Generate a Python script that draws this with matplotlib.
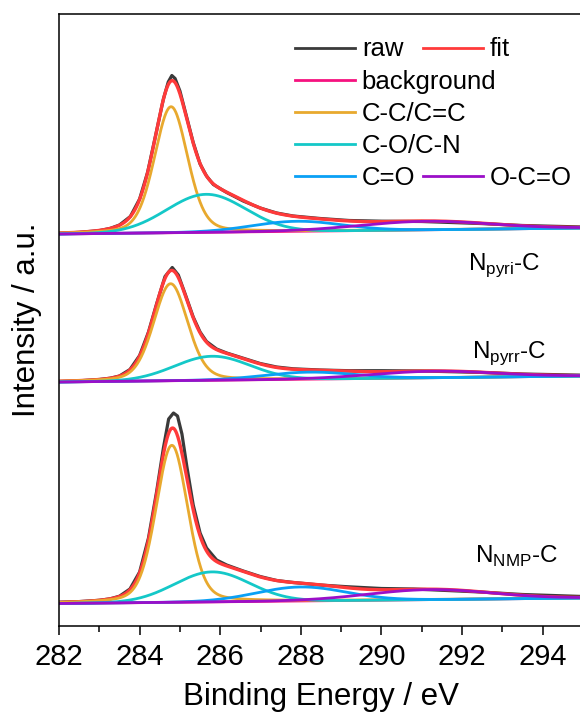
import numpy as np
import matplotlib
matplotlib.use("Agg")
import matplotlib.pyplot as plt
from matplotlib.lines import Line2D

plt.rcParams["font.family"] = ["Liberation Sans", "DejaVu Sans"]
plt.rcParams["mathtext.fontset"] = "custom"
plt.rcParams["mathtext.rm"] = "Liberation Sans"

# sample labels, top to bottom
samples = [r"N$_{\mathregular{pyri}}$-C", r"N$_{\mathregular{pyrr}}$-C", r"N$_{\mathregular{NMP}}$-C"]
label_x = [292.15, 292.25, 292.32]
label_y = [356, 268, 63]

# linear background (intensity at 282 eV and at 295 eV), stacked offsets included
bg_left = [392, 244, 22.5]
bg_right = [398, 250, 28]

# fitted components: centre (eV), FWHM (eV), height (a.u.)
cc_center = [284.78, 284.77, 284.80]
cc_fwhm = [0.97, 1.0, 0.93]
cc_height = [126, 97, 157]
co_center = [285.65, 285.80, 285.80]
co_fwhm = [2.3, 2.2, 2.2]
co_height = [38, 24, 30]
c_o_center = [287.9, 288.2, 288.0]
c_o_fwhm = [2.6, 2.6, 2.6]
c_o_height = [10, 7, 14]
oco_center = [291.1, 291.3, 291.2]
oco_fwhm = [3.8, 3.6, 3.6]
oco_height = [8.5, 6.5, 10]

# raw spectra
raw_top_ev = [282.0, 282.5, 283.0, 283.27, 283.5, 283.77, 284.0, 284.2, 284.42, 284.59, 284.71, 284.8,
              284.88, 285.0, 285.17, 285.33, 285.5, 285.66, 285.83, 286.16, 286.57, 286.99, 287.4,
              287.81, 288.48, 289.2, 290.0, 291.0, 292.45, 293.5, 295.0]
raw_top = [392.8, 393.6, 395.4, 397.6, 401, 409.5, 427, 454, 495, 527, 544, 550.5, 547.5, 535, 508.5,
           483.5, 462, 450, 441.5, 433.5, 425, 418, 413, 410, 407.5, 405.5, 404.8, 404.5, 402.5, 400.5, 399]
raw_mid_ev = [282.0, 282.5, 283.0, 283.27, 283.5, 283.76, 284.0, 284.22, 284.42, 284.63, 284.81, 284.96,
              285.13, 285.33, 285.5, 285.66, 285.91, 286.16, 286.57, 286.99, 287.4, 287.81, 288.48,
              289.2, 290.0, 291.0, 292.45, 293.5, 295.0]
raw_mid = [244.5, 245.2, 246.5, 247.8, 250, 256.5, 270.5, 294, 322, 349.5, 358.5, 351, 332, 309, 294,
           284.5, 277, 273, 267.8, 262.5, 259, 257.2, 256, 255.3, 255.3, 255, 253.6, 252, 250.8]
raw_bot_ev = [282.0, 282.5, 283.0, 283.27, 283.5, 283.76, 284.0, 284.22, 284.42, 284.59, 284.72, 284.84,
              284.94, 285.05, 285.17, 285.33, 285.5, 285.66, 285.91, 286.16, 286.57, 286.99, 287.4,
              287.81, 288.48, 289.14, 290.0, 290.8, 292.45, 293.5, 295.0]
raw_bot = [23.8, 24.4, 25.7, 27.2, 29.8, 37, 54, 88, 134, 178, 207, 213, 210, 192, 160, 121, 93, 78, 66,
           61, 55, 49.5, 45.5, 43.5, 41, 39.3, 37.5, 37, 34, 31.5, 29.5]
raw_ev = [raw_top_ev, raw_mid_ev, raw_bot_ev]
raw_int = [raw_top, raw_mid, raw_bot]

colors = {
	"raw": "#3a3a3a",
	"fit": "#ff3a3a",
	"background": "#f5127f",
	"C-C/C=C": "#e8a92e",
	"C-O/C-N": "#14c8c8",
	"C=O": "#0aa0f5",
	"O-C=O": "#9b0fc8",
}


def peak(x, c, w, h, mix=0.0):
	g = np.exp(-4 * np.log(2) * (x - c) ** 2 / w ** 2)
	l = 1 / (1 + 4 * (x - c) ** 2 / w ** 2)
	return h * ((1 - mix) * g + mix * l)


fig = plt.figure(figsize=(5.8, 7.17), dpi=100)
ax = fig.add_axes([59 / 580, 91 / 717, 524 / 580, 612 / 717])

x = np.linspace(282, 295, 1301)
for i in range(3):
	bg = bg_left[i] + (bg_right[i] - bg_left[i]) * (x - 282) / 13
	cc = peak(x, cc_center[i], cc_fwhm[i], cc_height[i], 0.25)
	co = peak(x, co_center[i], co_fwhm[i], co_height[i])
	c_o = peak(x, c_o_center[i], c_o_fwhm[i], c_o_height[i])
	oco = peak(x, oco_center[i], oco_fwhm[i], oco_height[i])
	fit = bg + cc + co + c_o + oco

	ax.plot(raw_ev[i], raw_int[i], color=colors["raw"], lw=2.3, label="raw")
	ax.plot(x, fit, color=colors["fit"], lw=2.4, label="fit")
	ax.plot(x, bg, color=colors["background"], lw=2.0, label="background")
	ax.plot(x, bg + cc, color=colors["C-C/C=C"], lw=2.0, label="C-C/C=C")
	ax.plot(x, bg + co, color=colors["C-O/C-N"], lw=2.0, label="C-O/C-N")
	ax.plot(x, bg + c_o, color=colors["C=O"], lw=2.0, label="C=O")
	ax.plot(x, bg + oco, color=colors["O-C=O"], lw=2.0, label="O-C=O")

	ax.text(label_x[i], label_y[i], samples[i], fontsize=17.5, ha="left", va="baseline")

ax.set_xlim(282, 295)
ax.set_ylim(0, 612)
ax.set_xticks(np.arange(282, 295, 2))
ax.set_xticks(np.arange(283, 295, 2), minor=True)
ax.set_yticks([])
ax.tick_params(axis="x", which="major", length=6.5, width=1.1, labelsize=21, pad=6)
ax.tick_params(axis="x", which="minor", length=4, width=1.1)
for s in ax.spines.values():
	s.set_linewidth(1.1)
ax.spines["right"].set_visible(False)
ax.set_xlabel("Binding Energy / eV", fontsize=22.5, labelpad=8)
ax.set_ylabel("Intensity / a.u.", fontsize=22.5, labelpad=12)

# Origin-style two-column legend, built as two single-column legends
def handle(name):
	return Line2D([], [], color=colors[name], lw=2.0)

blank = Line2D([], [], color="none")
kw = dict(loc="upper left", frameon=False, fontsize=18.5, borderpad=0, borderaxespad=0,
          handlelength=2.33, handletextpad=0.27, labelspacing=0.32, bbox_transform=fig.transFigure)
names1 = ["raw", "background", "C-C/C=C", "C-O/C-N", "C=O"]
leg1 = ax.legend([handle(n) for n in names1], names1, bbox_to_anchor=(295 / 580, 1 - 37.5 / 717), **kw)
ax.add_artist(leg1)
ax.legend([handle("fit"), blank, blank, blank, handle("O-C=O")], ["fit", " ", " ", " ", "O-C=O"],
          bbox_to_anchor=(423 / 580, 1 - 37.5 / 717), **kw)

fig.savefig("out.png", dpi=100)
